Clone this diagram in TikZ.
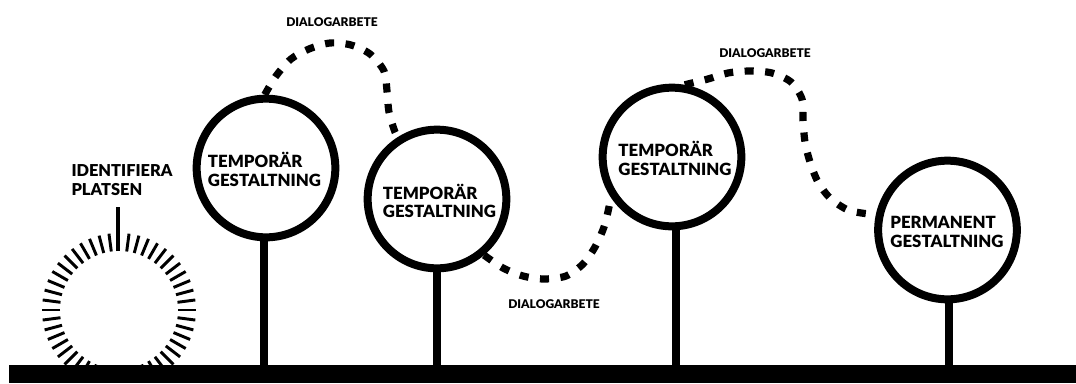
\documentclass[tikz,border=0pt]{standalone}
\usepackage{fontspec}
\setmainfont{Lato}[BoldFont=Lato Black]
\tikzset{every picture/.style={line width=0.75pt}}
\tikzset{
  stationcircle/.style={circle,draw,line width=6pt,minimum size=104pt,inner sep=0pt},
  stationtext/.style={inner sep=0.75pt,align=left,font=\fontsize{12.6}{13.7}\selectfont\bfseries},
  stemline/.style={line width=6pt},
  dialogline/.style={line width=5.4pt,dash pattern=on 6.8pt off 8.6pt},
  ticksline/.style={line width=2.2pt},
  dialoglabel/.style={inner sep=0.75pt,font=\fontsize{9}{10}\selectfont\bfseries},
}

\begin{document}
\begin{tikzpicture}[x=0.75pt,y=0.75pt,yscale=-1,xscale=1]
\useasboundingbox (0,0) rectangle (1076,383);

%Shape: Ticks
\begin{scope}
\clip (0,0) rectangle (1076,365);
\foreach \a in {0,7.5,...,352.5}{
  \ifdim\a pt=270pt\else
  \draw [ticksline] (119,310) ++(\a:59) -- ++(\a:18);
  \fi
}
\end{scope}
\coordinate (sunTop) at (118,251);
\coordinate (sunTick) at (118,207);
\draw [line width=3pt] (sunTop) -- (sunTick);

% Ground
\fill (9,365) rectangle (1076,383);
\coordinate (groundA) at (264,366);
\coordinate (groundB) at (437,366);
\coordinate (groundC) at (675.5,366);
\coordinate (groundD) at (949,366);

% Text Node
\node (identifiera) [anchor=north west,inner sep=0.75pt,align=left,font=\fontsize{12.3}{14.4}\selectfont\bfseries] at (70,163) {IDENTIFIERA\\PLATSEN};

%Shape: Circle
\node (tempA) [stationcircle] at (266,168) {};
\node (tempB) [stationcircle] at (437,199) {};
\node (tempC) [stationcircle] at (672,157) {};
\node (permanent) [stationcircle] at (947.5,230) {};

% Text Node
\node (tempAtext) [stationtext] at (264.5,169.5) {TEMPORÄR\\GESTALTNING};
% Text Node
\node (tempBtext) [stationtext] at (439.5,201) {TEMPORÄR\\GESTALTNING};
% Text Node
\node (tempCtext) [stationtext] at (675,158.5) {TEMPORÄR\\GESTALTNING};
% Text Node
\node (permanenttext) [stationtext] at (947,232) {PERMANENT\\GESTALTNING};

%Straight Lines
\draw [stemline] (tempA.south -| groundA) -- (groundA);
\draw [stemline] (tempB.south -| groundB) -- (groundB);
\draw [stemline] (tempC.south -| groundC) -- (groundC);
\draw [stemline] (permanent.south -| groundD) -- (groundD);

%Curve Lines
\draw [dialogline] plot [smooth] coordinates {(tempA.91) (276,76) (291,59) (309,49) (330,43) (351,45) (370,54) (384,71) (387,91) (389,112) (395,132) (tempB.122)};
\draw [dialogline] plot [smooth] coordinates {(tempB.-50) (503,268) (523,276) (544,279) (566,276) (583,264) (595,247) (604,227) (609,207) (tempC.213)};
\draw [dialogline] plot [smooth] coordinates {(tempC.80) (708,79) (728,73) (750,71) (772,73) (791,82) (802,99) (803,120) (805,142) (810,162) (818,182) (830,198) (848,210) (869,214) (permanent.167.5)};

% Text Node
\node (dialogA) [dialoglabel] at (332,22) {DIALOGARBETE};
% Text Node
\node (dialogB) [dialoglabel] at (554,304) {DIALOGARBETE};
% Text Node
\node (dialogC) [dialoglabel] at (765,53) {DIALOGARBETE};

\end{tikzpicture}
\end{document}
